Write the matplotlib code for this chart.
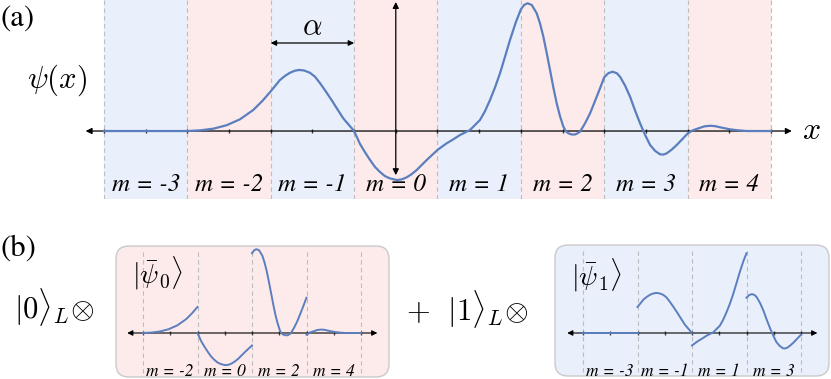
import numpy as np
import matplotlib
matplotlib.use("Agg")
import matplotlib.pyplot as plt
from matplotlib.patches import FancyBboxPatch

plt.rcParams['mathtext.fontset'] = 'cm'
plt.rcParams['font.family'] = ['STIXGeneral', 'DejaVu Serif']

# wavefunction psi(x), x in units of alpha (cell m spans m-0.5 .. m+0.5)
psi_x = [-3.5, -2.95, -2.5, -2.35, -2.19, -2.03, -1.87, -1.71, -1.60, -1.5,
         -1.39, -1.33, -1.27, -1.21, -1.16, -1.10, -1.03, -0.97, -0.91, -0.84,
         -0.77, -0.70, -0.63, -0.5, -0.43, -0.37, -0.31, -0.25, -0.19, -0.13,
         -0.07, 0.01, 0.07, 0.13, 0.19, 0.25, 0.37, 0.5, 0.61, 0.69,
         0.77, 0.89, 1.01, 1.07, 1.13, 1.19, 1.25, 1.31, 1.37, 1.44,
         1.5, 1.54, 1.58, 1.63, 1.69, 1.73, 1.77, 1.81, 1.85, 1.89,
         1.93, 1.97, 2.01, 2.04, 2.07, 2.11, 2.15, 2.18, 2.21, 2.27,
         2.33, 2.39, 2.45, 2.5, 2.55, 2.60, 2.65, 2.69, 2.75, 2.81,
         2.87, 2.93, 2.99, 3.05, 3.11, 3.17, 3.21, 3.25, 3.31, 3.37,
         3.43, 3.5, 3.56, 3.63, 3.70, 3.77, 3.83, 3.89, 4.01, 4.11,
         4.21, 4.5]
psi_y = [0.0, 0.0, 0.0, 0.005, 0.018, 0.045, 0.091, 0.164, 0.235, 0.31,
         0.398, 0.430, 0.455, 0.471, 0.477, 0.473, 0.455, 0.425, 0.375, 0.31,
         0.242, 0.17, 0.099, 0.0, -0.10, -0.165, -0.225, -0.28, -0.32, -0.352,
         -0.37, -0.383, -0.378, -0.362, -0.337, -0.305, -0.227, -0.148, -0.096, -0.065,
         -0.031, 0.008, 0.086, 0.155, 0.242, 0.34, 0.451, 0.58, 0.711, 0.85,
         0.95, 0.985, 0.998, 0.985, 0.920, 0.84, 0.737, 0.61, 0.477, 0.34,
         0.216, 0.115, 0.034, -0.002, -0.018, -0.027, -0.027, -0.018, -0.005, 0.06,
         0.138, 0.235, 0.334, 0.42, 0.452, 0.463, 0.452, 0.424, 0.355, 0.268,
         0.16, 0.060, -0.03, -0.109, -0.155, -0.182, -0.184, -0.174, -0.145, -0.109,
         -0.068, -0.02, 0.005, 0.021, 0.036, 0.041, 0.038, 0.029, 0.013, 0.005,
         0.0, 0.0]

cells = [-3, -2, -1, 0, 1, 2, 3, 4]
even_cells = [-2, 0, 2, 4]
odd_cells = [-3, -1, 1, 3]

BLUE_BG = '#e9effb'
PINK_BG = '#fdebeb'
LINE = '#5b7fbe'
DASH = '#bdbdbd'

psi_x = np.array(psi_x)
psi_y = np.array(psi_y)

W, H = 831, 379
fig = plt.figure(figsize=(W / 100, H / 100), dpi=100)


def px_axes(x0, y0, x1, y1):
    # axes placed by pixel box (top-left origin)
    return fig.add_axes([x0 / W, 1 - y1 / H, (x1 - x0) / W, (y1 - y0) / H])


def arrow(ax, p0, p1, style='<|-|>', ms=9, lw=0.9):
    ax.annotate('', xy=p1, xytext=p0,
                arrowprops=dict(arrowstyle=style, color='black', lw=lw,
                                mutation_scale=ms, shrinkA=0, shrinkB=0))


def mlabel(m):
    return 'm = %d' % m


# ---------- panel (a) ----------
ax = px_axes(0, 0, W, 199)
ax.set_xlim(-4.747, 5.220)
ax.set_ylim(-0.531, 1.0234)
ax.axis('off')

for m in cells:
    ax.axvspan(m - 0.5, m + 0.5, color=BLUE_BG if m % 2 else PINK_BG, lw=0, zorder=0)
    ax.text(m, -0.42, mlabel(m), ha='center', va='center', fontsize=18, style='italic')
for b in np.arange(-3.5, 5.0, 1.0):
    ax.axvline(b, color=DASH, ls=(0, (4, 3)), lw=0.8, zorder=1)

arrow(ax, (-3.72, 0), (4.75, 0))
ax.plot(np.arange(-3.5, 4.6, 0.5), np.zeros(17), '|', color='#333333', ms=3, zorder=2)
arrow(ax, (0, -0.345), (0, 1.008))
arrow(ax, (-1.5, 0.6875), (-0.5, 0.6875), ms=8)
ax.text(-1.0, 0.80, r'$\alpha$', ha='center', va='center', fontsize=22)
ax.text(-4.42, 0.40, r'$\psi(x)$', ha='left', va='center', fontsize=22)
ax.text(4.87, 0.0, r'$x$', ha='left', va='center', fontsize=23)
ax.plot(psi_x, psi_y, color=LINE, lw=1.6, zorder=3, solid_joinstyle='round')


# ---------- panel (b) ----------
def box(x0, y0, x1, y1, axis_px, dash0, face, chosen, label, lab_u, lab_y):
    bx = px_axes(x0, y0, x1, y1)
    cw = 54.5
    scale = 84.0
    bx.set_xlim((x0 - dash0) / cw, (x1 - dash0) / cw)
    bx.set_ylim((axis_px - y1) / scale, (axis_px - y0) / scale)
    bx.axis('off')
    wpx, hpx = x1 - x0, y1 - y0
    bx.add_patch(FancyBboxPatch((0, 0), 1, 1, transform=bx.transAxes,
                                boxstyle='round,pad=0,rounding_size=%f' % (13 / wpx),
                                mutation_aspect=wpx / hpx, fc=face,
                                ec='#cacaca', lw=1.0, zorder=0, clip_on=False))
    for k in range(5):
        bx.axvline(k, ymin=0.03, ymax=0.97, color=DASH, ls=(0, (4, 3)), lw=0.8, zorder=1)
    arrow(bx, (-0.29, 0), (4.30, 0), ms=8, lw=0.8)
    bx.plot(np.arange(0, 4.1, 0.5), np.zeros(9), '|', color='#444444', ms=2.5, zorder=2)
    for k, m in enumerate(chosen):
        sel = (psi_x >= m - 0.5) & (psi_x <= m + 0.5)
        bx.plot(k + psi_x[sel] - (m - 0.5), psi_y[sel], color=LINE, lw=1.4, zorder=3,
                solid_joinstyle='round')
        bx.text(k + 0.5, -0.46, mlabel(m), ha='center', va='center', fontsize=12.5,
                style='italic')
    bx.text(lab_u, lab_y, label, ha='left', va='center', fontsize=20)


box(116, 246, 389, 377, 333, 143, PINK_BG, even_cells, r'$|\bar{\psi}_0\rangle$', -0.2, 0.71)
box(555, 245, 829, 376, 333, 583, BLUE_BG, odd_cells, r'$|\bar{\psi}_1\rangle$', -0.22, 0.69)

fig.text(0 / W, 1 - 19 / H, '(a)', ha='left', va='center', fontsize=22)
fig.text(0 / W, 1 - 249 / H, '(b)', ha='left', va='center', fontsize=22)
fig.text(14 / W, 1 - 307 / H, r'$|0\rangle_L\!\otimes$', ha='left', va='center', fontsize=22)
fig.text(406 / W, 1 - 309 / H, r'$+\ \ |1\rangle_L\!\otimes$', ha='left', va='center', fontsize=22)

fig.savefig('out.png', dpi=100)
